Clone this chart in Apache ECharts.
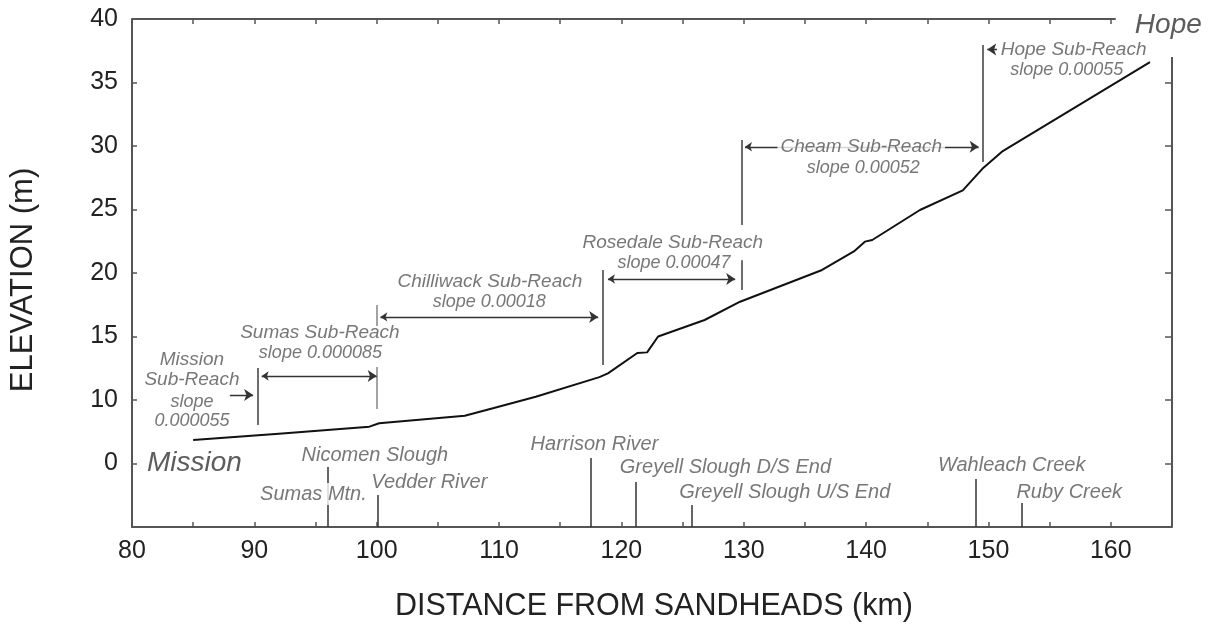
<!DOCTYPE html>
<html>
<head>
<meta charset="utf-8">
<title>Fraser River water-surface profile, Mission to Hope</title>
<script src="https://cdn.jsdelivr.net/npm/echarts@6/dist/echarts.min.js"></script>
<style>
  html, body { margin: 0; padding: 0; background: #fff; }
  #chart { width: 1212px; height: 624px; }
</style>
</head>
<body>
<div id="chart"></div>
<script>
// Water-surface profile along the gravel reach (distance from Sandheads, km / elevation, m)
const distanceKm = [85.0, 92.0, 99.4, 100.2, 107.2, 109.5, 113.0, 118.2, 118.9, 121.3, 122.1, 123.0,
                    126.8, 129.7, 136.4, 139.0, 139.9, 140.5, 144.4, 147.9, 149.5, 151.1, 163.2];
const elevationM = [6.85, 7.35, 7.9, 8.17, 8.76, 9.35, 10.26, 11.8, 12.1, 13.7, 13.75, 15.0,
                    16.3, 17.74, 20.24, 21.7, 22.47, 22.6, 24.96, 26.5, 28.2, 29.55, 36.6];

// Axis tick labels
const xTickLabels = [80, 90, 100, 110, 120, 130, 140, 150, 160];
const xMinorTicks = [85, 90, 95, 100, 105, 110, 115, 120, 125, 130, 135, 140, 145, 150, 155, 160];
const yTickValues = [5, 10, 15, 20, 25, 30, 35, 40];
const yTickLabels = ['0', '10', '15', '20', '25', '30', '35', '40'];
const yRightTicks = [5, 10, 15, 20, 25, 30, 35];

// Sub-reaches
const reachNames = ['Mission\nSub-Reach', 'Sumas Sub-Reach', 'Chilliwack Sub-Reach',
                    'Rosedale Sub-Reach', 'Cheam Sub-Reach', 'Hope Sub-Reach'];
const reachSlopes = ['slope\n0.000055', 'slope 0.000085', 'slope 0.00018',
                     'slope 0.00047', 'slope 0.00052', 'slope 0.00055'];

// Landmarks along the river
const landmarkNames = ['Nicomen Slough', 'Sumas Mtn.', 'Vedder River', 'Harrison River',
                       'Greyell Slough D/S End', 'Greyell Slough U/S End', 'Wahleach Creek', 'Ruby Creek'];
const landmarkKm = [96.0, 96.0, 100.07, 117.5, 121.2, 125.75, 149.0, 152.7];

const townNames = ['Mission', 'Hope'];

// ---- layout of annotations, in axis units (km, m) ----
const reachNameAt  = [[84.9, 12.36], [95.36, 15.28], [109.25, 19.32], [124.2, 22.39], [139.6, 29.94], [156.96, 37.56]];
const reachSlopeAt = [[84.9, 9.1], [95.4, 13.7], [109.2, 17.74], [124.3, 20.76], [139.76, 28.24], [156.4, 35.98]];
const landmarkLabelAt = [[99.85, 5.67], [94.83, 2.6], [104.3, 3.54], [117.8, 6.54],
                         [128.5, 4.72], [133.35, 2.76], [151.9, 4.88], [156.6, 2.76]];
const landmarkTickTop = [4.72, null, 2.52, 5.43, 3.54, 1.73, 3.78, 1.89];
const townLabelAt = [[85.1, 5.04], [164.7, 39.5]];

const darkBars = [
  [[90.3, 12.52], [90.3, 8.03]],
  [[118.5, 20.24], [118.5, 12.76]],
  [[129.8, 21.0], [129.8, 18.66]],
  [[129.8, 30.47], [129.8, 23.78]],
  [[149.5, 37.95], [149.5, 28.74]]
];
const lightBars = [
  [[100.0, 12.6], [100.0, 9.29]],
  [[100.0, 17.48], [100.0, 15.83]]
];
const doubleArrows = [
  [[90.6, 11.89], [100.0, 11.89]],
  [[100.3, 16.54], [118.1, 16.54]],
  [[118.9, 19.53], [129.3, 19.53]],
  [[130.1, 29.94], [149.2, 29.94]]
];
const singleArrows = [
  [[88.0, 10.39], [89.9, 10.39]],
  [[150.7, 37.6], [149.9, 37.6]]
];
const frameLines = [
  [[80, 40], [160.4, 40]],
  [[165, 37], [165, 0]]
];

const FONT = '"Liberation Sans", Arial, Helvetica, sans-serif';
const AXIS_COLOR = '#555';

function linesSeries(segments, color, width, symbol, z) {
  return {
    type: 'lines',
    coordinateSystem: 'cartesian2d',
    xAxisIndex: 0, yAxisIndex: 0,
    polyline: false,
    silent: true,
    z: z || 3,
    symbol: symbol || ['none', 'none'],
    symbolSize: [7, 9],
    lineStyle: { color: color, width: width, opacity: 1, curveness: 0 },
    data: segments.map(c => ({ coords: c }))
  };
}

function textSeries(items, style) {
  return {
    type: 'scatter',
    xAxisIndex: 0, yAxisIndex: 0,
    silent: true,
    z: 10,
    symbol: 'circle',
    symbolSize: 1,
    itemStyle: { color: 'rgba(0,0,0,0)' },
    label: Object.assign({
      show: true,
      position: 'inside',
      formatter: p => p.name,
      fontFamily: FONT,
      fontStyle: 'italic',
      align: 'center',
      verticalAlign: 'middle'
    }, style),
    data: items
  };
}

const reachNameItems = reachNames.map((n, i) => {
  const item = { name: n, value: reachNameAt[i] };
  if (n === 'Cheam Sub-Reach') item.label = { backgroundColor: '#fff', padding: [1, 3] };
  return item;
});
const reachSlopeItems = reachSlopes.map((n, i) => ({ name: n, value: reachSlopeAt[i] }));
const landmarkItems = landmarkNames.map((n, i) => {
  const item = { name: n, value: landmarkLabelAt[i] };
  if (landmarkTickTop[i] === null) item.label = { backgroundColor: '#fff', padding: [1, 2] };
  return item;
});
const townItems = townNames.map((n, i) => ({ name: n, value: townLabelAt[i] }));

const landmarkTicks = [];
landmarkKm.forEach((k, i) => {
  if (landmarkTickTop[i] !== null) landmarkTicks.push([[k, 0], [k, landmarkTickTop[i]]]);
});

const chart = echarts.init(document.getElementById('chart'), null, { renderer: 'canvas' });

chart.setOption({
  animation: false,
  backgroundColor: '#fff',
  grid: { left: 132, right: 40, top: 19, bottom: 97, containLabel: false },
  xAxis: [
    {
      type: 'value', min: 80, max: 165, interval: 5,
      axisLine: { show: true, onZero: false, lineStyle: { color: AXIS_COLOR, width: 2 } },
      axisTick: { show: true, inside: true, length: 5, lineStyle: { color: AXIS_COLOR, width: 1.5 } },
      splitLine: { show: false },
      axisLabel: {
        formatter: v => (xTickLabels.indexOf(v) >= 0 ? String(v) : ''),
        fontFamily: FONT, fontSize: 25, color: '#222', margin: 12
      }
    },
    {
      type: 'value', position: 'top', min: 80, max: 165, interval: 5,
      axisLine: { show: false, onZero: false },
      axisTick: { show: true, inside: true, length: 5, customValues: xMinorTicks,
                  lineStyle: { color: AXIS_COLOR, width: 1.5 } },
      axisLabel: { show: false },
      splitLine: { show: false }
    }
  ],
  yAxis: [
    {
      type: 'value', min: 0, max: 40, interval: 5,
      axisLine: { show: true, onZero: false, lineStyle: { color: AXIS_COLOR, width: 2 } },
      axisTick: { show: true, inside: true, length: 5, lineStyle: { color: AXIS_COLOR, width: 1.5 } },
      splitLine: { show: false },
      axisLabel: {
        formatter: v => { const i = yTickValues.indexOf(v); return i >= 0 ? yTickLabels[i] : ''; },
        fontFamily: FONT, fontSize: 25, color: '#222', margin: 14
      }
    },
    {
      type: 'value', position: 'right', min: 0, max: 40, interval: 5,
      axisLine: { show: false, onZero: false },
      axisTick: { show: true, inside: true, length: 7, customValues: yRightTicks,
                  lineStyle: { color: AXIS_COLOR, width: 1.5 } },
      axisLabel: { show: false },
      splitLine: { show: false }
    }
  ],
  graphic: [
    {
      type: 'text', x: 654, y: 607, silent: true,
      style: { text: 'DISTANCE FROM SANDHEADS (km)', fontFamily: FONT, fontSize: 30.5,
               fill: '#222', align: 'center', verticalAlign: 'middle' }
    },
    {
      type: 'text', x: 23, y: 280, rotation: Math.PI / 2, silent: true,
      style: { text: 'ELEVATION (m)', fontFamily: FONT, fontSize: 31,
               fill: '#222', align: 'center', verticalAlign: 'middle' }
    }
  ],
  series: [
    {
      name: 'Water surface',
      type: 'line',
      xAxisIndex: 0, yAxisIndex: 0,
      data: distanceKm.map((k, i) => [k, elevationM[i]]),
      showSymbol: false, symbol: 'none',
      lineStyle: { color: '#111', width: 2 },
      z: 4
    },
    linesSeries(frameLines, AXIS_COLOR, 2),
    linesSeries(darkBars, '#3c3c3c', 1.5),
    linesSeries(lightBars, '#a3a3a3', 2),
    linesSeries(doubleArrows, '#333', 1.3, ['arrow', 'arrow']),
    linesSeries(singleArrows, '#333', 1.3, ['none', 'arrow']),
    linesSeries(landmarkTicks, '#333', 1.5),
    textSeries(reachNameItems, { fontSize: 19, color: '#555', lineHeight: 20 }),
    textSeries(reachSlopeItems, { fontSize: 18, color: '#555', lineHeight: 19 }),
    textSeries(landmarkItems, { fontSize: 20, color: '#555' }),
    textSeries(townItems, { fontSize: 28, color: '#333' })
  ]
});
</script>
</body>
</html>
